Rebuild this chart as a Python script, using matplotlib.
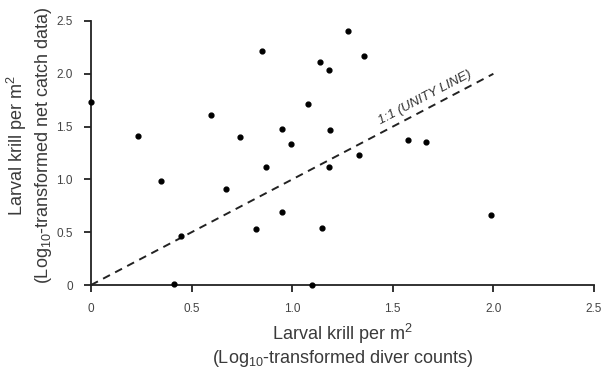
import numpy as np
import matplotlib.pyplot as plt

plt.rcParams['font.family'] = ['Liberation Sans', 'DejaVu Sans']
plt.rcParams['mathtext.fontset'] = 'custom'
plt.rcParams['mathtext.rm'] = 'Liberation Sans'
plt.rcParams['mathtext.it'] = 'Liberation Sans:italic'

# Log10-transformed diver counts (x) vs net catch data (y)
diver = [0.00, 0.234, 0.348, 0.596, 0.74, 0.67, 0.85, 0.87, 0.95, 0.994,
         0.447, 0.41, 0.82, 0.95, 1.138, 1.277, 1.183, 1.357, 1.078, 1.188,
         1.576, 1.665, 1.332, 1.183, 1.148, 1.988, 1.098]
net = [1.73, 1.41, 0.985, 1.61, 1.40, 0.91, 2.22, 1.12, 1.48, 1.34,
       0.46, 0.01, 0.53, 0.69, 2.11, 2.41, 2.04, 2.17, 1.71, 1.47,
       1.37, 1.35, 1.23, 1.12, 0.54, 0.66, 0.00]
unity = [0, 2.0]
xticks = [0, 0.5, 1.0, 1.5, 2.0, 2.5]
xticklabels = ['0', '0.5', '1.0', '1.5', '2.0', '2.5']
yticks = [0, 0.5, 1.0, 1.5, 2.0, 2.5]
yticklabels = ['0', '0.5', '1.0', '1.5', '2.0', '2.5']

fig = plt.figure(figsize=(6.04, 3.73), dpi=100)
ax = fig.add_axes([0.1507, 0.2359, 0.8327, 0.7078])

ax.plot(unity, unity, ls=(0, (4, 3)), color='#222222', lw=1.4, clip_on=False)
ax.scatter(diver, net, s=12, color='black', zorder=3, clip_on=False)

ax.text(1.66, 1.77, '1:1 (UNITY LINE)', rotation=27.7, rotation_mode='anchor',
        ha='center', va='center', fontsize=9.5, style='italic', color='#333333')

ax.set_xlim(0, 2.5)
ax.set_ylim(0, 2.5)
ax.set_xticks(xticks)
ax.set_xticklabels(xticklabels)
ax.set_yticks(yticks)
ax.set_yticklabels(yticklabels)
ax.tick_params(direction='out', length=5, width=1.3, color='#222222',
               labelsize=8.5, labelcolor='#444444', pad=8)
for s in ['top', 'right']:
    ax.spines[s].set_visible(False)
for s in ['left', 'bottom']:
    ax.spines[s].set_linewidth(1.3)
    ax.spines[s].set_color('#222222')

lab = dict(fontsize=13, color='#3a3a3a', ha='center', va='center')
fig.text(0.567, 0.1046, 'Larval krill per m$\\mathregular{^2}$', **lab)
fig.text(0.567, 0.0402, '(Log$\\mathregular{_{10}}$-transformed diver counts)', **lab)
fig.text(0.0281, 0.61, 'Larval krill per m$\\mathregular{^2}$', rotation=90, **lab)
fig.text(0.0712, 0.61, '(Log$\\mathregular{_{10}}$-transformed net catch data)', rotation=90, **lab)

fig.savefig('out.png', dpi=100)
